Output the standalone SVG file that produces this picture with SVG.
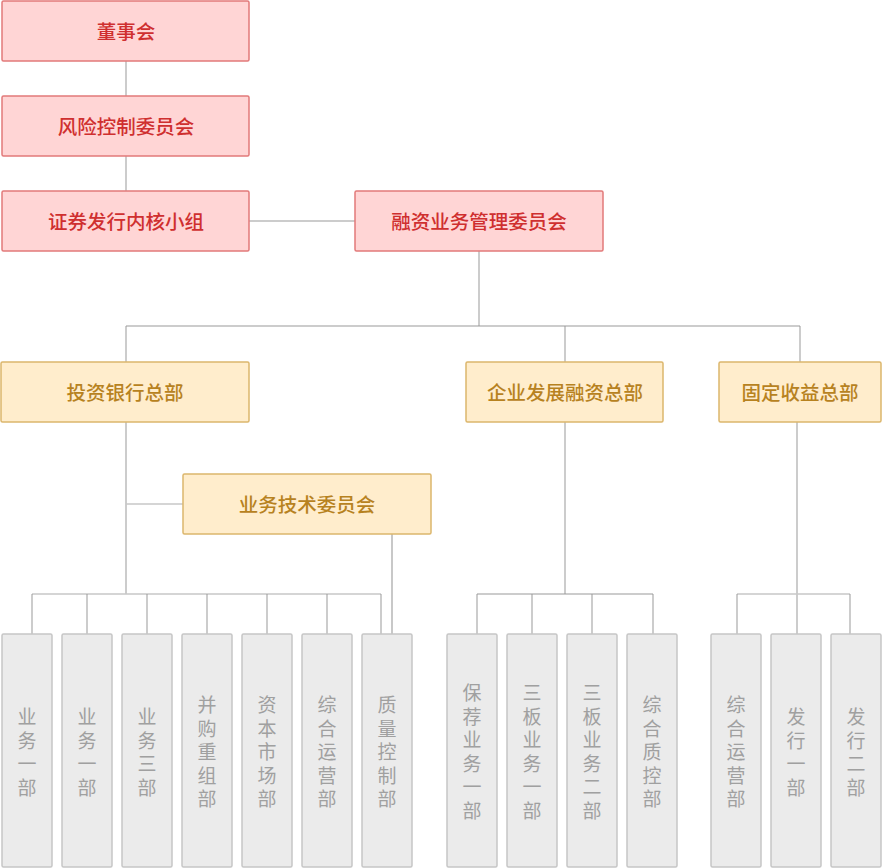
<svg xmlns="http://www.w3.org/2000/svg" width="882" height="868" viewBox="0 0 882 868">
<style>
text{font-family:"Noto Sans CJK SC","Noto Sans",sans-serif;font-size:19px;text-anchor:middle;dominant-baseline:central}
.r rect{fill:#ffd5d5;stroke:#e27a7a;stroke-width:1.5}
.r text{fill:#cf2f2f;font-weight:500;font-size:19.5px}
.y rect{fill:#ffedcc;stroke:#dcb66c;stroke-width:1.5}
.y text{fill:#b7821f;font-weight:500;font-size:19.5px}
.g rect{fill:#ebebeb;stroke:#c6c6c6;stroke-width:1.5}
.g text{fill:#a0a0a0}
.d{stroke:#999;stroke-width:1;fill:none}
.l{stroke:#c8c8c8;stroke-width:1.5;fill:none}
</style>
<g id="connectors">
<path class="d" d="M126 61V96M126 156V191M249 221H355M479 251V326M126 326H800M126 326V362M565 326V362M800 326V362"/>
<path class="d" d="M126 422V594M565 422V594M797 422V634"/>
<path class="l" d="M126 504H183M32 594H381M737 594H850"/>
<path class="l" d="M392 534V634" style="stroke-width:2"/>
<path class="d" d="M477 594H653"/>
<path class="d" d="M32 594V634M87 594V634M147 594V634M207 594V634M267 594V634M327 594V634M381 594V634M477 594V634M532 594V634M592 594V634M653 594V634M737 594V634M850 594V634"/>
</g>
<g id="n1" class="r"><rect x="2" y="1" width="247" height="60" rx="1.5"/><text x="126" y="30.5">董事会</text></g>
<g id="n2" class="r"><rect x="2" y="96" width="247" height="60" rx="1.5"/><text x="126" y="125.5">风险控制委员会</text></g>
<g id="n3" class="r"><rect x="2" y="191" width="247" height="60" rx="1.5"/><text x="126" y="220.5">证券发行内核小组</text></g>
<g id="n4" class="r"><rect x="355" y="191" width="248" height="60" rx="1.5"/><text x="479" y="220.5">融资业务管理委员会</text></g>
<g id="n5" class="y"><rect x="1" y="362" width="248" height="60" rx="1.5"/><text x="125" y="391.5">投资银行总部</text></g>
<g id="n6" class="y"><rect x="466" y="362" width="197" height="60" rx="1.5"/><text x="565" y="391.5">企业发展融资总部</text></g>
<g id="n7" class="y"><rect x="719" y="362" width="162" height="60" rx="1.5"/><text x="800" y="391.5">固定收益总部</text></g>
<g id="n8" class="y"><rect x="183" y="474" width="248" height="60" rx="1.5"/><text x="307" y="503.5">业务技术委员会</text></g>
<g id="b1" class="g"><rect x="2" y="634" width="50" height="233" rx="1.5"/><text x="27" y="715"><tspan x="27">业</tspan><tspan x="27" dy="23.5">务</tspan><tspan x="27" dy="23.5">一</tspan><tspan x="27" dy="23.5">部</tspan></text></g>
<g id="b2" class="g"><rect x="62" y="634" width="50" height="233" rx="1.5"/><text x="87" y="715"><tspan x="87">业</tspan><tspan x="87" dy="23.5">务</tspan><tspan x="87" dy="23.5">一</tspan><tspan x="87" dy="23.5">部</tspan></text></g>
<g id="b3" class="g"><rect x="122" y="634" width="50" height="233" rx="1.5"/><text x="147" y="715"><tspan x="147">业</tspan><tspan x="147" dy="23.5">务</tspan><tspan x="147" dy="23.5">三</tspan><tspan x="147" dy="23.5">部</tspan></text></g>
<g id="b4" class="g"><rect x="182" y="634" width="50" height="233" rx="1.5"/><text x="207" y="703"><tspan x="207">并</tspan><tspan x="207" dy="23.5">购</tspan><tspan x="207" dy="23.5">重</tspan><tspan x="207" dy="23.5">组</tspan><tspan x="207" dy="23.5">部</tspan></text></g>
<g id="b5" class="g"><rect x="242" y="634" width="50" height="233" rx="1.5"/><text x="267" y="703"><tspan x="267">资</tspan><tspan x="267" dy="23.5">本</tspan><tspan x="267" dy="23.5">市</tspan><tspan x="267" dy="23.5">场</tspan><tspan x="267" dy="23.5">部</tspan></text></g>
<g id="b6" class="g"><rect x="302" y="634" width="50" height="233" rx="1.5"/><text x="327" y="703"><tspan x="327">综</tspan><tspan x="327" dy="23.5">合</tspan><tspan x="327" dy="23.5">运</tspan><tspan x="327" dy="23.5">营</tspan><tspan x="327" dy="23.5">部</tspan></text></g>
<g id="b7" class="g"><rect x="362" y="634" width="50" height="233" rx="1.5"/><text x="387" y="703"><tspan x="387">质</tspan><tspan x="387" dy="23.5">量</tspan><tspan x="387" dy="23.5">控</tspan><tspan x="387" dy="23.5">制</tspan><tspan x="387" dy="23.5">部</tspan></text></g>
<g id="b8" class="g"><rect x="447" y="634" width="50" height="233" rx="1.5"/><text x="472" y="691"><tspan x="472">保</tspan><tspan x="472" dy="23.5">荐</tspan><tspan x="472" dy="23.5">业</tspan><tspan x="472" dy="23.5">务</tspan><tspan x="472" dy="23.5">一</tspan><tspan x="472" dy="23.5">部</tspan></text></g>
<g id="b9" class="g"><rect x="507" y="634" width="50" height="233" rx="1.5"/><text x="532" y="691"><tspan x="532">三</tspan><tspan x="532" dy="23.5">板</tspan><tspan x="532" dy="23.5">业</tspan><tspan x="532" dy="23.5">务</tspan><tspan x="532" dy="23.5">一</tspan><tspan x="532" dy="23.5">部</tspan></text></g>
<g id="b10" class="g"><rect x="567" y="634" width="50" height="233" rx="1.5"/><text x="592" y="691"><tspan x="592">三</tspan><tspan x="592" dy="23.5">板</tspan><tspan x="592" dy="23.5">业</tspan><tspan x="592" dy="23.5">务</tspan><tspan x="592" dy="23.5">二</tspan><tspan x="592" dy="23.5">部</tspan></text></g>
<g id="b11" class="g"><rect x="627" y="634" width="50" height="233" rx="1.5"/><text x="652" y="703"><tspan x="652">综</tspan><tspan x="652" dy="23.5">合</tspan><tspan x="652" dy="23.5">质</tspan><tspan x="652" dy="23.5">控</tspan><tspan x="652" dy="23.5">部</tspan></text></g>
<g id="b12" class="g"><rect x="711" y="634" width="50" height="233" rx="1.5"/><text x="736" y="703"><tspan x="736">综</tspan><tspan x="736" dy="23.5">合</tspan><tspan x="736" dy="23.5">运</tspan><tspan x="736" dy="23.5">营</tspan><tspan x="736" dy="23.5">部</tspan></text></g>
<g id="b13" class="g"><rect x="771" y="634" width="50" height="233" rx="1.5"/><text x="796" y="715"><tspan x="796">发</tspan><tspan x="796" dy="23.5">行</tspan><tspan x="796" dy="23.5">一</tspan><tspan x="796" dy="23.5">部</tspan></text></g>
<g id="b14" class="g"><rect x="831" y="634" width="50" height="233" rx="1.5"/><text x="856" y="715"><tspan x="856">发</tspan><tspan x="856" dy="23.5">行</tspan><tspan x="856" dy="23.5">二</tspan><tspan x="856" dy="23.5">部</tspan></text></g>
</svg>
